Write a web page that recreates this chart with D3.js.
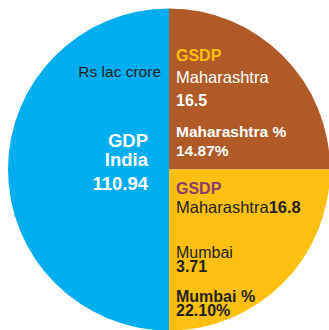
<!DOCTYPE html>
<html>
<head>
<meta charset="utf-8">
<script src="https://cdn.jsdelivr.net/npm/d3@7"></script>
<style>
  html, body { margin: 0; padding: 0; background: #fff; }
  svg { display: block; }
  text { font-family: "Liberation Sans", Arial, sans-serif; }
</style>
</head>
<body>
<svg id="chart" width="329" height="330"></svg>
<script>
// slices, clockwise from 12 o'clock
const sliceNames = ['Maharashtra', 'Mumbai', 'India'];
const sliceShares = [1, 1, 2];          // schematic shares of the circle
const sliceColors = ['#b05a28', '#fdc010', '#00aeef'];

const unitLabel = 'Rs lac crore';
const gdpIndia = 110.94;
const gsdpMaharashtra = [16.5, 16.8];
const maharashtraPct = 14.87;
const mumbaiValue = 3.71;
const mumbaiPct = 22.10;

const W = 329, H = 330;
const cx = 169, cy = 169.5, R = 161;

const svg = d3.select('#chart');
const g = svg.append('g').attr('transform', `translate(${cx},${cy})`);

const pie = d3.pie().sort(null).value(d => d.share);
const arc = d3.arc().innerRadius(0).outerRadius(R);

const data = sliceNames.map((n, i) => ({ name: n, share: sliceShares[i], color: sliceColors[i] }));

g.selectAll('path').data(pie(data)).join('path')
  .attr('d', arc)
  .attr('fill', d => d.data.color);

// text helper: lines of [x, y, anchor, parts]
function line(x, y, anchor, parts, size) {
  const t = svg.append('text')
    .attr('x', x).attr('y', y)
    .attr('text-anchor', anchor)
    .attr('font-size', size || 16);
  parts.forEach(p => {
    t.append('tspan')
      .text(p.t)
      .attr('fill', p.c)
      .attr('font-weight', p.b ? 'bold' : 'normal');
  });
}

const WHITE = '#ffffff', DARK = '#231f20', GOLD = '#fdc010', PLUM = '#8a3a6e';

// India half
line(cx - 8, 77, 'end', [{ t: unitLabel, c: DARK }], 15.5);
line(cx - 21, 147, 'end', [{ t: 'GDP', c: WHITE, b: true }], 18.5);
line(cx - 21, 165.5, 'end', [{ t: sliceNames[2], c: WHITE, b: true }], 18.5);
line(cx - 21, 190, 'end', [{ t: d3.format('.2f')(gdpIndia), c: WHITE, b: true }], 18.5);

// Maharashtra quarter
const tx = cx + 7;
line(tx, 61, 'start', [{ t: 'GSDP', c: GOLD, b: true }], 16);
line(tx, 83, 'start', [{ t: sliceNames[0], c: WHITE }], 16.5);
line(tx, 106, 'start', [{ t: String(gsdpMaharashtra[0]), c: WHITE, b: true }], 16);
line(tx, 137, 'start', [{ t: sliceNames[0] + ' %', c: WHITE, b: true }], 15.5);
line(tx, 156, 'start', [{ t: d3.format('.2f')(maharashtraPct) + '%', c: WHITE, b: true }], 15.5);

// Mumbai quarter
line(tx, 194, 'start', [{ t: 'GSDP', c: PLUM, b: true }], 16);
line(tx, 213, 'start', [{ t: sliceNames[0], c: DARK }, { t: String(gsdpMaharashtra[1]), c: DARK, b: true }], 16.5);
line(tx, 258, 'start', [{ t: sliceNames[1], c: DARK }], 16);
line(tx, 272, 'start', [{ t: String(mumbaiValue), c: DARK, b: true }], 16);
line(tx, 302, 'start', [{ t: sliceNames[1] + ' %', c: DARK, b: true }], 16);
line(tx, 316, 'start', [{ t: d3.format('.2f')(mumbaiPct) + '%', c: DARK, b: true }], 16);
</script>
</body>
</html>
